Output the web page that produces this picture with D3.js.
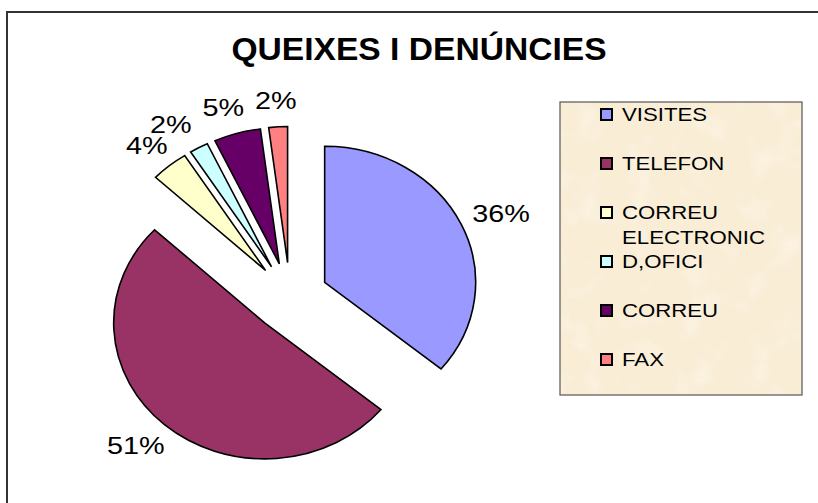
<!DOCTYPE html>
<html>
<head>
<meta charset="utf-8">
<script src="https://cdnjs.cloudflare.com/ajax/libs/d3/7.8.5/d3.min.js"></script>
<style>
  body { margin: 0; background: #fff; }
  text { font-family: "Liberation Sans", Arial, sans-serif; }
</style>
</head>
<body>
<div id="chart"></div>
<script>
// data
var categories = ["VISITES", "TELEFON", "CORREU ELECTRONIC", "D,OFICI", "CORREU", "FAX"];
var values = [36, 51, 4, 2, 5, 2];
var colors = ["#9999ff", "#993366", "#ffffcc", "#ccffff", "#660066", "#ff8080"];
var legendLines = [["VISITES"], ["TELEFON"], ["CORREU", "ELECTRONIC"], ["D,OFICI"], ["CORREU"], ["FAX"]];
var title = "QUEIXES I DENÚNCIES";

var width = 818, height = 503;
var cx = 290, cy = 297, ry = 136, sx = 151 / 136, explode = 34.5;
var textSx = 1.2;

var svg = d3.select("#chart").append("svg")
  .attr("width", width)
  .attr("height", height);

var defs = svg.append("defs");
var filt = defs.append("filter").attr("id", "paper")
  .attr("x", 0).attr("y", 0).attr("width", 1).attr("height", 1);
filt.append("feTurbulence").attr("type", "fractalNoise")
  .attr("baseFrequency", "0.035").attr("numOctaves", 3).attr("seed", 4);
filt.append("feColorMatrix").attr("type", "matrix")
  .attr("values", "0 0 0 0 1  0 0 0 0 0.96  0 0 0 0 0.88  0 0 0 1.4 -0.7");

// outer frame
svg.append("rect")
  .attr("x", 7).attr("y", 12)
  .attr("width", width).attr("height", height)
  .attr("fill", "none")
  .attr("stroke", "#333")
  .attr("stroke-width", 2);

svg.append("text")
  .attr("transform", "translate(419,60) scale(1.05,1)")
  .attr("text-anchor", "middle")
  .attr("font-size", 32)
  .attr("font-weight", "bold")
  .text(title);

// pie
var pie = d3.pie().sort(null).value(function(d) { return d; });
var arcs = pie(values);
var arc = d3.arc().innerRadius(0).outerRadius(ry);

var slices = svg.append("g").attr("class", "slices")
  .selectAll("g")
  .data(arcs)
  .enter().append("g")
  .attr("transform", function(d) {
    var m = (d.startAngle + d.endAngle) / 2;
    var x = cx + explode * sx * Math.sin(m), y = cy - explode * Math.cos(m);
    return "translate(" + x + "," + y + ") scale(" + sx + ",1)";
  });

slices.append("path")
  .attr("d", arc)
  .attr("fill", function(d, i) { return colors[i]; })
  .attr("stroke", "#000")
  .attr("stroke-width", 1.6)
  .attr("stroke-linejoin", "miter")
  .attr("vector-effect", "non-scaling-stroke");

// data labels: outside end, then nudge crowded small ones leftwards
var labelSize = 24, gap = 18;
var labels = arcs.map(function(d) {
  var m = (d.startAngle + d.endAngle) / 2;
  var s = Math.sin(m), c = Math.cos(m);
  var ox = cx + explode * sx * s, oy = cy - explode * c;
  var px = ox + ry * sx * s, py = oy - ry * c;
  var txt = d.value + "%";
  var w = txt.length * 0.6 * labelSize * textSx, h = 0.72 * labelSize;
  return { text: txt, w: w, h: h, x: px + (gap + w / 2) * s, y: py - (gap + h / 2) * c };
});
for (var i = labels.length - 2; i >= 2; i--) {
  var a = labels[i], b = labels[i + 1];
  if (Math.abs(a.y - b.y) < 20) {
    var maxRight = b.x - b.w / 2 - 18;
    if (a.x + a.w / 2 > maxRight) a.x = maxRight - a.w / 2;
  }
}

svg.append("g").attr("class", "labels")
  .selectAll("text")
  .data(labels)
  .enter().append("text")
  .attr("font-size", labelSize)
  .attr("text-anchor", "middle")
  .attr("transform", function(d) {
    return "translate(" + d.x + "," + (d.y + d.h / 2) + ") scale(" + textSx + ",1)";
  })
  .text(function(d) { return d.text; });

// legend
var legend = svg.append("g").attr("class", "legend");
legend.append("rect")
  .attr("x", 560).attr("y", 102).attr("width", 242).attr("height", 293)
  .attr("fill", "#f9edd6");
legend.append("rect")
  .attr("x", 560).attr("y", 102).attr("width", 242).attr("height", 293)
  .attr("filter", "url(#paper)")
  .attr("opacity", 0.8);
legend.append("rect")
  .attr("x", 560).attr("y", 102).attr("width", 242).attr("height", 293)
  .attr("fill", "none").attr("stroke", "#555").attr("stroke-width", 1.2);

var item = legend.selectAll("g.item")
  .data(categories)
  .enter().append("g")
  .attr("class", "item")
  .attr("transform", function(d, i) { return "translate(0," + (114.5 + 49 * i) + ")"; });

item.append("rect")
  .attr("x", 601).attr("y", -5.5).attr("width", 11).attr("height", 11)
  .attr("fill", function(d, i) { return colors[i]; })
  .attr("stroke", "#000").attr("stroke-width", 2);

item.each(function(d, i) {
  var g = d3.select(this);
  legendLines[i].forEach(function(line, j) {
    g.append("text")
      .attr("transform", "translate(622," + (6.6 + 25 * j) + ") scale(" + textSx + ",1)")
      .attr("font-size", 18.5)
      .text(line);
  });
});
</script>
</body>
</html>
